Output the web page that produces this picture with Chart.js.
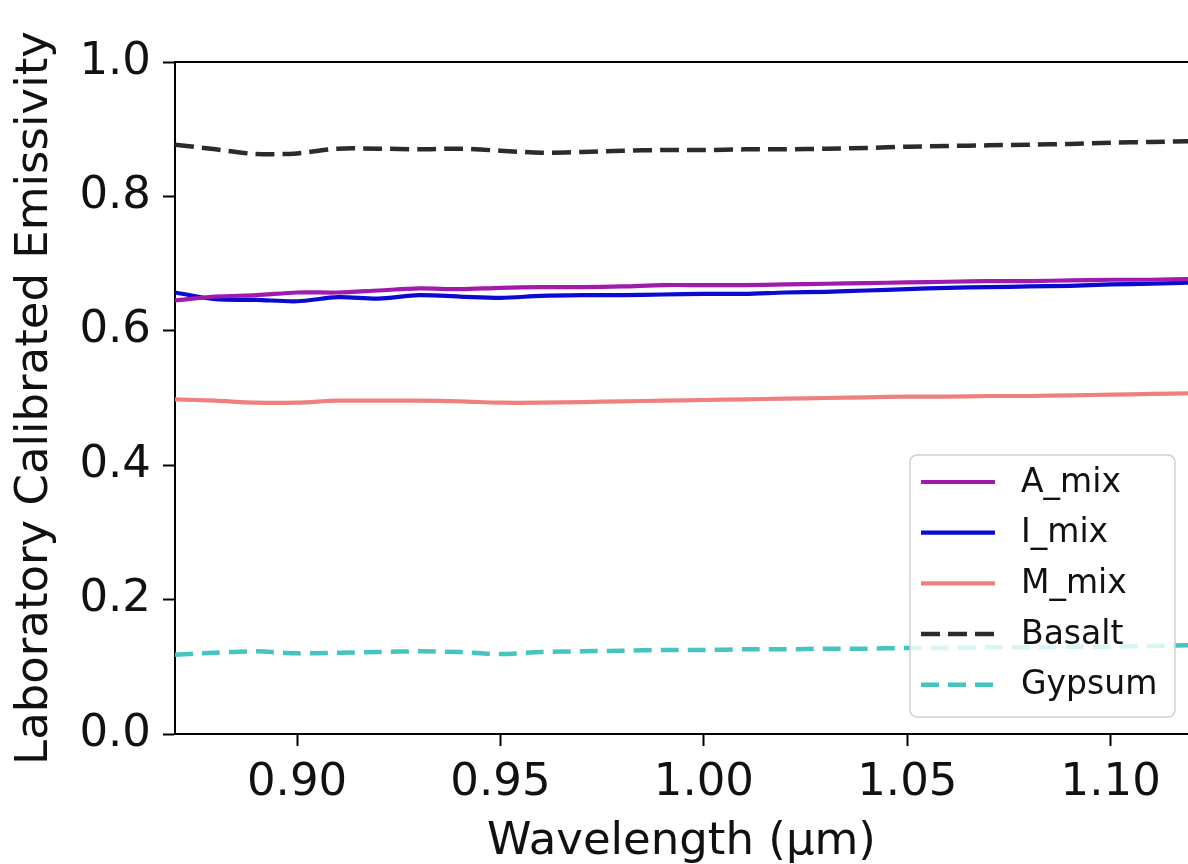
<!DOCTYPE html>
<html>
<head>
<meta charset="utf-8">
<script src="https://cdn.jsdelivr.net/npm/chart.js@4.4.1/dist/chart.umd.min.js"></script>
<style>
  html, body { margin: 0; padding: 0; background: #fff; }
  #wrap { width: 1188px; height: 864px; position: relative; }
</style>
</head>
<body>
<div id="wrap"><canvas id="emis"></canvas></div>
<script>
// wavelength (um)
const wavelengths = [0.87, 0.88, 0.89, 0.90, 0.91, 0.92, 0.93, 0.94, 0.95, 0.96, 0.97, 0.98, 0.99,
                     1.00, 1.01, 1.02, 1.03, 1.04, 1.05, 1.06, 1.07, 1.08, 1.09, 1.10, 1.11, 1.12];

const aMix   = [0.645, 0.651, 0.653, 0.657, 0.657, 0.660, 0.663, 0.662, 0.664, 0.665, 0.665, 0.666, 0.668,
                0.668, 0.668, 0.669, 0.670, 0.671, 0.672, 0.673, 0.674, 0.674, 0.675, 0.676, 0.676, 0.677];
const iMix   = [0.657, 0.647, 0.646, 0.644, 0.650, 0.648, 0.653, 0.651, 0.649, 0.652, 0.653, 0.653, 0.654,
                0.655, 0.655, 0.657, 0.658, 0.660, 0.662, 0.664, 0.665, 0.666, 0.667, 0.669, 0.670, 0.672];
const mMix   = [0.498, 0.496, 0.493, 0.493, 0.496, 0.496, 0.496, 0.495, 0.493, 0.493, 0.494, 0.495, 0.496,
                0.497, 0.498, 0.499, 0.500, 0.501, 0.502, 0.502, 0.503, 0.503, 0.504, 0.505, 0.506, 0.507];
const basalt = [0.877, 0.870, 0.863, 0.864, 0.871, 0.871, 0.870, 0.871, 0.868, 0.865, 0.866, 0.868, 0.869,
                0.869, 0.870, 0.870, 0.871, 0.872, 0.874, 0.875, 0.876, 0.877, 0.878, 0.880, 0.881, 0.882];
const gypsum = [0.118, 0.121, 0.123, 0.120, 0.121, 0.122, 0.123, 0.122, 0.119, 0.122, 0.123, 0.124, 0.125,
                0.125, 0.126, 0.126, 0.127, 0.127, 0.128, 0.128, 0.129, 0.129, 0.130, 0.130, 0.131, 0.132];

const seriesNames = ['A_mix', 'I_mix', 'M_mix', 'Basalt', 'Gypsum'];
const xTicks = [0.90, 0.95, 1.00, 1.05, 1.10];
const yTicks = [0.0, 0.2, 0.4, 0.6, 0.8, 1.0];

const FONT = 'DejaVu Sans';

function toPoints(vals) {
    return wavelengths.map((w, i) => ({ x: w, y: vals[i] }));
}

const styles = [
    { color: '#a01aae', dash: [] },
    { color: '#0a0ad0', dash: [] },
    { color: '#f08080', dash: [] },
    { color: '#2b2b2b', dash: [19, 8] },
    { color: '#45c4c0', dash: [18, 9] }
];

const datasets = [aMix, iMix, mMix, basalt, gypsum].map((vals, i) => ({
    label: seriesNames[i],
    data: toPoints(vals),
    borderColor: styles[i].color,
    backgroundColor: 'rgba(0,0,0,0)',
    borderDash: styles[i].dash,
    borderWidth: styles[i].dash.length ? 4.5 : 4.2,
    pointRadius: 0,
    tension: 0.3,
    fill: false
}));

// frame top line + legend box inside plot (matplotlib style)
const framePlugin = {
    id: 'framePlugin',
    afterDatasetsDraw(chart) {
        const { ctx, chartArea } = chart;
        ctx.save();
        ctx.strokeStyle = '#000';
        ctx.lineWidth = 2;
        ctx.beginPath();
        ctx.moveTo(chartArea.left - 1, chartArea.top);
        ctx.lineTo(chartArea.right, chartArea.top);
        ctx.stroke();

        // legend
        const bx = 910, by = 455, bw = 265, bh = 262, r = 7;
        ctx.beginPath();
        ctx.roundRect(bx, by, bw, bh, r);
        ctx.fillStyle = 'rgba(255,255,255,0.8)';
        ctx.fill();
        ctx.strokeStyle = '#d0d0d0';
        ctx.lineWidth = 1.5;
        ctx.stroke();

        ctx.font = '33px "' + FONT + '"';
        ctx.textBaseline = 'middle';
        ctx.textAlign = 'left';
        chart.data.datasets.forEach((ds, i) => {
            const y = 482 + i * 50.7;
            ctx.beginPath();
            ctx.setLineDash(ds.borderDash || []);
            ctx.strokeStyle = ds.borderColor;
            ctx.lineWidth = ds.borderWidth;
            ctx.moveTo(921, y);
            ctx.lineTo(995, y);
            ctx.stroke();
            ctx.setLineDash([]);
            ctx.fillStyle = '#111';
            ctx.fillText(ds.label, 1021, y + 1);
        });
        ctx.restore();
    }
};

const ctx = document.getElementById('emis').getContext('2d');
new Chart(ctx, {
    type: 'line',
    data: { datasets: datasets },
    options: {
        responsive: true,
        maintainAspectRatio: false,
        animation: false,
        layout: { padding: { top: 62, right: 0, left: 0, bottom: 0 } },
        scales: {
            x: {
                type: 'linear',
                min: 0.87,
                max: 1.119,
                afterBuildTicks: s => { s.ticks = xTicks.map(v => ({ value: v })); },
                afterFit: s => { s.height = 130; },
                ticks: {
                    color: '#111',
                    font: { family: FONT, size: 45 },
                    padding: 10,
                    maxRotation: 0,
                    callback: v => Number(v).toFixed(2)
                },
                grid: { display: true, drawOnChartArea: false, drawTicks: true, tickLength: 12, tickWidth: 2, tickColor: '#000' },
                border: { display: true, color: '#000', width: 2 },
                title: {
                    display: true,
                    text: 'Wavelength (μm)',
                    color: '#111',
                    font: { family: FONT, size: 45 },
                    padding: { top: 0, bottom: -5 }
                }
            },
            y: {
                min: 0,
                max: 1,
                afterBuildTicks: s => { s.ticks = yTicks.map(v => ({ value: v })); },
                afterFit: s => { s.width = 175; },
                ticks: {
                    color: '#111',
                    font: { family: FONT, size: 45 },
                    padding: 12,
                    callback: v => Number(v).toFixed(1)
                },
                grid: { display: true, drawOnChartArea: false, drawTicks: true, tickLength: 12, tickWidth: 2, tickColor: '#000' },
                border: { display: true, color: '#000', width: 2 },
                title: {
                    display: true,
                    text: 'Laboratory Calibrated Emissivity',
                    color: '#111',
                    font: { family: FONT, size: 45 },
                    padding: { top: 8, bottom: 0 }
                }
            }
        },
        plugins: {
            legend: { display: false },
            tooltip: { enabled: false }
        }
    },
    plugins: [framePlugin]
});
</script>
</body>
</html>
